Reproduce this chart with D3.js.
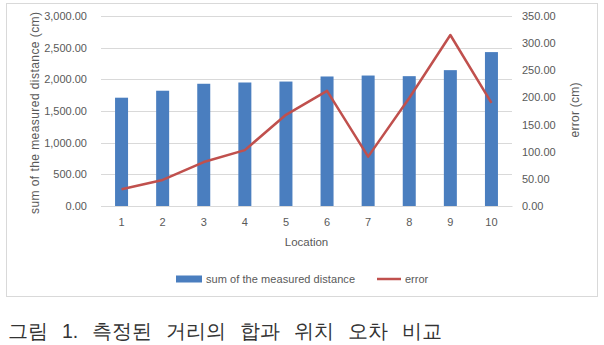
<!DOCTYPE html>
<html>
<head>
<meta charset="utf-8">
<script src="https://cdn.jsdelivr.net/npm/d3@7"></script>
<style>
  body { margin: 0; background: #fff; }
  svg text { font-family: "Liberation Sans", Arial, sans-serif; }
</style>
</head>
<body>
<div id="plot"></div>
<script>
// data
const locations = [1, 2, 3, 4, 5, 6, 7, 8, 9, 10];
const distance = [1710, 1820, 1930, 1950, 1965, 2045, 2060, 2050, 2145, 2430];
const error = [31, 48, 81, 103, 168, 212, 91, 199, 315, 190];
const leftTicks = [0, 500, 1000, 1500, 2000, 2500, 3000];
const rightTicks = [0, 50, 100, 150, 200, 250, 300, 350];

const W = 604, H = 345;
const plot = { left: 101, right: 512, top: 16, bottom: 206 };

const svg = d3.select("#plot")
  .append("svg")
    .attr("width", W)
    .attr("height", H);

// chart frame
svg.append("rect")
    .attr("x", 6.5).attr("y", 3.5)
    .attr("width", 591).attr("height", 293)
    .attr("fill", "#fff")
    .attr("stroke", "#d9d9d9");

const x = d3.scaleBand()
    .domain(locations)
    .range([plot.left, plot.right]);

const yL = d3.scaleLinear().domain([0, 3000]).range([plot.bottom, plot.top]);
const yR = d3.scaleLinear().domain([0, 350]).range([plot.bottom, plot.top]);

// gridlines
svg.append("g")
  .selectAll("line")
  .data(leftTicks)
  .join("line")
    .attr("x1", plot.left).attr("x2", plot.right)
    .attr("y1", d => Math.round(yL(d)) + 0.5)
    .attr("y2", d => Math.round(yL(d)) + 0.5)
    .attr("stroke", "#d9d9d9");

// left axis
const gL = svg.append("g")
    .attr("transform", `translate(${plot.left - 14},0)`)
    .call(d3.axisLeft(yL).tickValues(leftTicks).tickFormat(d3.format(",.2f")).tickSize(0).tickPadding(0));
gL.select(".domain").remove();
gL.selectAll("text").attr("fill", "#595959").attr("font-size", 11).attr("font-family", "Liberation Sans, Arial, sans-serif");

// right axis
const gR = svg.append("g")
    .attr("transform", `translate(${plot.right + 10},0)`)
    .call(d3.axisRight(yR).tickValues(rightTicks).tickFormat(d3.format(",.2f")).tickSize(0).tickPadding(0));
gR.select(".domain").remove();
gR.selectAll("text").attr("fill", "#595959").attr("font-size", 11).attr("font-family", "Liberation Sans, Arial, sans-serif");

// bottom axis
const gB = svg.append("g")
    .attr("transform", `translate(0,${plot.bottom})`)
    .call(d3.axisBottom(x).tickSize(0).tickPadding(12));
gB.select(".domain").attr("stroke", "#d9d9d9");
gB.selectAll("text").attr("fill", "#595959").attr("font-size", 11).attr("font-family", "Liberation Sans, Arial, sans-serif");

// bars
const barW = 13;
svg.append("g")
  .selectAll("rect")
  .data(locations)
  .join("rect")
    .attr("x", (d) => x(d) + x.bandwidth() / 2 - barW / 2)
    .attr("y", (d, i) => yL(distance[i]))
    .attr("width", barW)
    .attr("height", (d, i) => yL(0) - yL(distance[i]))
    .attr("fill", "#4a7ebf");

// error line
const line = d3.line()
    .x((d) => x(d) + x.bandwidth() / 2)
    .y((d, i) => yR(error[i]));

svg.append("path")
  .datum(locations)
  .attr("fill", "none")
  .attr("stroke", "#c0504d")
  .attr("stroke-width", 2.5)
  .attr("stroke-linejoin", "round")
  .attr("d", line);

// axis titles
svg.append("text")
    .attr("transform", `translate(39,113) rotate(-90)`)
    .attr("text-anchor", "middle")
    .attr("fill", "#595959")
    .attr("font-size", 12)
    .attr("textLength", 202)
    .text("sum of the measured distance (cm)");

svg.append("text")
    .attr("transform", `translate(579,110) rotate(-90)`)
    .attr("text-anchor", "middle")
    .attr("fill", "#595959")
    .attr("font-size", 12)
    .attr("textLength", 55)
    .text("error (cm)");

svg.append("text")
    .attr("x", (plot.left + plot.right) / 2)
    .attr("y", 246)
    .attr("text-anchor", "middle")
    .attr("fill", "#595959")
    .attr("font-size", 11.5)
    .text("Location");

// legend
const leg = svg.append("g").attr("transform", "translate(0,279)");
leg.append("rect").attr("x", 176).attr("y", -3.5).attr("width", 26).attr("height", 7).attr("fill", "#4a7ebf");
leg.append("text").attr("x", 206).attr("y", 4).attr("fill", "#595959").attr("font-size", 11)
    .attr("textLength", 149)
    .text("sum of the measured distance");
leg.append("line").attr("x1", 377).attr("x2", 401).attr("y1", 0).attr("y2", 0)
    .attr("stroke", "#c0504d").attr("stroke-width", 2.5);
leg.append("text").attr("x", 405).attr("y", 4).attr("fill", "#595959").attr("font-size", 11)
    .text("error");

// caption
svg.append("text")
    .attr("x", 8)
    .attr("y", 338)
    .attr("fill", "#333")
    .attr("font-size", 19.5)
    .attr("word-spacing", 8.5)
    .attr("font-family", "Noto Sans CJK KR, sans-serif")
    .text("그림 1. 측정된 거리의 합과 위치 오차 비교");
</script>
</body>
</html>
